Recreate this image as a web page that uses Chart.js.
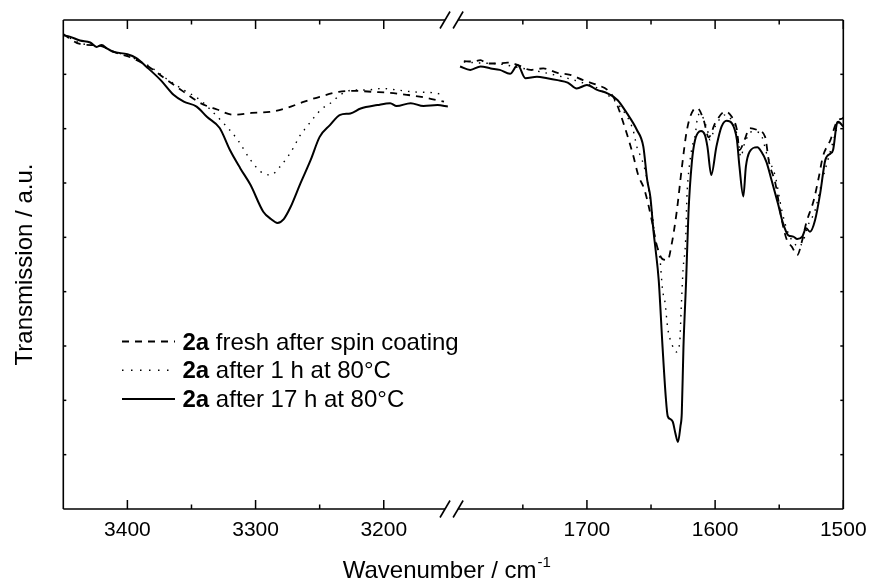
<!DOCTYPE html>
<html>
<head>
<meta charset="utf-8">
<script src="https://cdn.jsdelivr.net/npm/chart.js@4.4.0/dist/chart.umd.min.js"></script>
<style>
  html, body { margin: 0; padding: 0; background: #fff; }
  #wrap { width: 870px; height: 583px; position: relative; }
</style>
</head>
<body>
<div id="wrap"><canvas id="ir-chart" width="870" height="583"></canvas></div>
<script>
// [wavenumber cm-1, transmission a.u.]
const freshOH = [[3450,97.1],[3437,95.1],[3421,94.7],[3411,93.5],[3396,92.2],[3382,90.2],[3369,87.7],[3356,85.3],[3343,83.0],[3330,81.7],[3317,80.6],[3303,81.0],[3289,81.2],[3277,81.9],[3262,83.3],[3250,84.3],[3235,85.3],[3222,85.5],[3208,85.3],[3195,85.1],[3182,84.7],[3169,84.2],[3153,83.3]];
const oneHourOH = [[3450,97.1],[3437,95.3],[3421,94.6],[3411,93.6],[3396,92.3],[3382,90.4],[3369,87.9],[3356,85.7],[3343,83.6],[3335,81.6],[3325,78.9],[3314,75.5],[3304,71.4],[3296,69.0],[3288,68.3],[3281,70.0],[3275,72.0],[3270,74.1],[3266,76.1],[3260,78.2],[3254,80.2],[3248,81.9],[3240,83.3],[3234,84.7],[3223,85.7],[3213,85.7],[3201,86.0],[3190,85.7],[3177,85.3],[3161,85.1],[3153,84.7]];
const longOH = [[3450,96.9],[3445,96.6],[3437,95.8],[3429,95.4],[3424,94.5],[3420,94.9],[3416,94.2],[3411,93.5],[3400,93.0],[3393,92.2],[3385,90.4],[3374,87.7],[3364,84.7],[3356,83.3],[3346,82.3],[3338,80.2],[3328,77.9],[3320,73.4],[3312,69.7],[3304,66.3],[3294,60.8],[3288,59.3],[3283,58.5],[3278,59.3],[3273,61.6],[3265,66.6],[3257,71.4],[3250,76.1],[3242,78.5],[3234,80.6],[3226,80.9],[3218,81.9],[3205,82.6],[3195,83.0],[3190,82.4],[3179,83.0],[3169,82.4],[3158,82.6],[3150,82.3]];

const freshAmide = [[1796,91.6],[1789,91.5],[1783,91.8],[1778,91.1],[1770,91.1],[1762,91.3],[1754,90.8],[1744,89.8],[1734,90.1],[1723,89.2],[1713,88.8],[1703,87.7],[1692,86.7],[1684,85.7],[1678,83.6],[1671,78.5],[1664,72.4],[1660,68.3],[1655,65.2],[1649,58.5],[1646,54.4],[1641,51.1],[1637,50.9],[1634,54.0],[1630,60.7],[1626,69.7],[1622,77.5],[1617,81.6],[1614,82.0],[1609,79.6],[1605,76.0],[1600,78.9],[1592,81.3],[1587,80.2],[1583,77.5],[1581,73.4],[1577,75.5],[1573,77.9],[1567,77.5],[1561,76.1],[1558,71.0],[1553,66.6],[1548,59.1],[1544,55.0],[1540,53.6],[1536,51.9],[1532,55.0],[1529,58.4],[1523,63.2],[1519,68.0],[1516,72.0],[1510,75.5],[1505,79.2],[1500,79.9]];
const oneHourAmide = [[1796,91.4],[1783,91.2],[1768,91.0],[1752,90.2],[1736,89.4],[1721,88.5],[1705,87.3],[1692,86.1],[1684,84.7],[1674,82.2],[1664,77.5],[1661,74.0],[1657,71.4],[1653,67.3],[1651,63.8],[1649,60.5],[1647,55.6],[1643,51.0],[1641,44.8],[1639,42.1],[1637,37.0],[1634,33.9],[1630,32.1],[1627.5,34.5],[1626.5,40.7],[1625,48.9],[1623,55.0],[1622,63.8],[1621,67.9],[1619.5,71.4],[1618,74.0],[1615.5,76.5],[1614,79.6],[1612,80.9],[1606,77.5],[1604,75.5],[1600,78.2],[1592,80.6],[1586,78.9],[1582,75.5],[1580,72.0],[1577,74.8],[1571,77.2],[1565,76.9],[1559,72.0],[1553,68.0],[1548,61.1],[1543,56.4],[1538,54.3],[1535,53.6],[1531,55.0],[1528,57.7],[1522,61.1],[1517,66.6],[1512,71.4],[1506,76.9],[1503,79.6],[1500,80.0]];
const longAmide = [[1799,90.5],[1791,89.8],[1783,90.5],[1775,90.1],[1768,89.8],[1760,89.0],[1754,90.8],[1748,88.1],[1739,88.4],[1731,88.1],[1723,87.7],[1715,87.2],[1708,86.0],[1700,86.7],[1692,85.7],[1684,85.0],[1676,83.6],[1669,81.0],[1661,77.5],[1656,74.1],[1653,67.3],[1650.5,63.8],[1648,56.6],[1646.5,53.2],[1644,46.8],[1641,33.1],[1638.5,22.9],[1637,19.0],[1635,18.4],[1633,17.8],[1631,15.5],[1629,13.7],[1627,17.0],[1626,19.6],[1624.7,33.1],[1622.6,46.8],[1620.8,60.5],[1618.2,70.8],[1615.6,75.5],[1611,77.3],[1608,76.5],[1606,74.1],[1603,68.3],[1599,74.1],[1595,78.2],[1591,79.4],[1587,78.9],[1583,75.5],[1581,70.0],[1578,63.9],[1576,70.0],[1573,73.1],[1567,74.0],[1564,73.1],[1560,71.0],[1556,67.3],[1551,62.5],[1547,58.4],[1543,56.0],[1539,55.7],[1536,55.2],[1532,55.7],[1529,57.4],[1526,56.7],[1522,59.1],[1518,64.6],[1514,71.4],[1510,72.7],[1508,73.4],[1505,78.9],[1504,79.2],[1500,78.2]];

const tickMajor = [3400, 3300, 3200, 1700, 1600, 1500];
const tickMinor = [3350, 3250, 1750, 1650, 1550];
const yTickCount = 9;

const sampleName = '2a';
const seriesLabels = ['fresh after spin coating', 'after 1 h at 80°C', 'after 17 h at 80°C'];

const FONT = '"Liberation Sans", Arial, sans-serif';

// broken axis: 3450..~3150 then ~1800..1500 on one linear scale
function toAxis(wn) { return wn > 2500 ? 3450 - wn : 2108.5 - wn; }
function fromAxis(u) { return u < 303 ? 3450 - u : 2108.5 - u; }
const breakMarks = [297.8, 308];

function joinParts(high, low) {
    return high.map(p => ({ x: toAxis(p[0]), y: p[1] }))
        .concat([{ x: 303, y: null }])
        .concat(low.map(p => ({ x: toAxis(p[0]), y: p[1] })));
}

function line(ctx, x1, y1, x2, y2) {
    ctx.beginPath();
    ctx.moveTo(x1, y1);
    ctx.lineTo(x2, y2);
    ctx.stroke();
}

const framePlugin = {
    id: 'frame',
    afterDraw(chart) {
        const { ctx, chartArea: a, scales: { x, y } } = chart;
        ctx.save();
        ctx.strokeStyle = '#000';
        ctx.lineWidth = 1.6;
        line(ctx, a.left, a.top, a.left, a.bottom);
        line(ctx, a.right, a.top, a.right, a.bottom);
        const b1 = x.getPixelForValue(breakMarks[0]);
        const b2 = x.getPixelForValue(breakMarks[1]);
        [a.top, a.bottom].forEach(yy => {
            line(ctx, a.left, yy, b1, yy);
            line(ctx, b2, yy, a.right, yy);
            line(ctx, b1 - 5, yy + 8.5, b1 + 5, yy - 8.5);
            line(ctx, b2 - 5, yy + 8.5, b2 + 5, yy - 8.5);
        });
        // inward ticks
        ctx.lineWidth = 1.5;
        tickMajor.concat(tickMinor).forEach(w => {
            const px = x.getPixelForValue(toAxis(w));
            const len = tickMajor.includes(w) ? 9 : 4.5;
            line(ctx, px, a.bottom, px, a.bottom - len);
            line(ctx, px, a.top, px, a.top + len);
        });
        for (let k = 1; k < yTickCount; k++) {
            const py = y.getPixelForValue(k * 100 / yTickCount);
            line(ctx, a.left, py, a.left + 3, py);
            line(ctx, a.right, py, a.right - 3, py);
        }
        // x title with superscript
        const main = 'Wavenumber / cm';
        const sup = '-1';
        ctx.fillStyle = '#000';
        ctx.textBaseline = 'alphabetic';
        ctx.font = '24px ' + FONT;
        const wMain = ctx.measureText(main).width;
        ctx.font = '15px ' + FONT;
        const wSup = ctx.measureText(sup).width;
        const start = (a.left + a.right) / 2 - 7 - (wMain + wSup) / 2;
        ctx.font = '24px ' + FONT;
        ctx.fillText(main, start, 578);
        ctx.font = '15px ' + FONT;
        ctx.fillText(sup, start + wMain + 1, 567);
        ctx.restore();
    }
};

const legendPlugin = {
    id: 'irLegend',
    afterDraw(chart) {
        const ctx = chart.ctx;
        chart.data.datasets.forEach((ds, i) => {
            const yy = 341.5 + i * 28.8;
            ctx.save();
            ctx.strokeStyle = ds.borderColor;
            ctx.lineWidth = ds.borderWidth;
            ctx.setLineDash(ds.legendDash || []);
            line(ctx, 122, yy, 175, yy);
            ctx.setLineDash([]);
            ctx.fillStyle = '#000';
            ctx.textBaseline = 'middle';
            ctx.font = 'bold 24px ' + FONT;
            ctx.fillText(sampleName, 182.5, yy + 1.5);
            const w = ctx.measureText(sampleName).width;
            ctx.font = '24px ' + FONT;
            ctx.fillText(' ' + ds.label, 182.5 + w, yy + 1.5);
            ctx.restore();
        });
    }
};

const ctxIR = document.getElementById('ir-chart').getContext('2d');
window.irChart = new Chart(ctxIR, {
    type: 'line',
    data: {
        datasets: [{
            label: seriesLabels[0],
            data: joinParts(freshOH, freshAmide),
            borderColor: '#000',
            borderWidth: 1.8,
            borderDash: [7, 6],
            legendDash: [7, 6]
        }, {
            label: seriesLabels[1],
            data: joinParts(oneHourOH, oneHourAmide),
            borderColor: '#000',
            borderWidth: 1.4,
            borderDash: [1.5, 6],
            legendDash: [1.5, 7.5]
        }, {
            label: seriesLabels[2],
            data: joinParts(longOH, longAmide),
            borderColor: '#000',
            borderWidth: 2
        }]
    },
    options: {
        responsive: false,
        animation: false,
        events: [],
        elements: {
            point: { radius: 0 },
            line: { tension: 0.3, cubicInterpolationMode: 'monotone', fill: false }
        },
        layout: { padding: { top: 20, right: 26.7, left: 0, bottom: 0 } },
        plugins: {
            legend: { display: false },
            tooltip: { enabled: false }
        },
        scales: {
            x: {
                type: 'linear',
                min: 0,
                max: 608.5,
                afterFit(scale) {
                    scale.height = 74;
                    scale.paddingLeft = 0;
                    scale.paddingRight = 0;
                },
                afterBuildTicks(scale) {
                    scale.ticks = tickMajor.concat(tickMinor)
                        .map(w => ({ value: toAxis(w) }))
                        .sort((p, q) => p.value - q.value);
                },
                grid: { display: false, drawTicks: false },
                border: { display: false },
                ticks: {
                    autoSkip: false,
                    maxRotation: 0,
                    padding: 9,
                    color: '#000',
                    font: { family: FONT, size: 21 },
                    callback: function(value) {
                        const w = Math.round(fromAxis(value));
                        return tickMajor.includes(w) ? String(w) : '';
                    }
                }
            },
            y: {
                min: 0,
                max: 100,
                afterFit(scale) { scale.width = 63.3; },
                grid: { display: false, drawTicks: false },
                border: { display: false },
                ticks: { display: false },
                title: {
                    display: true,
                    text: 'Transmission / a.u.',
                    color: '#000',
                    font: { family: FONT, size: 24 },
                    padding: { top: 11, bottom: 0 }
                }
            }
        }
    },
    plugins: [framePlugin, legendPlugin]
});
</script>
</body>
</html>
